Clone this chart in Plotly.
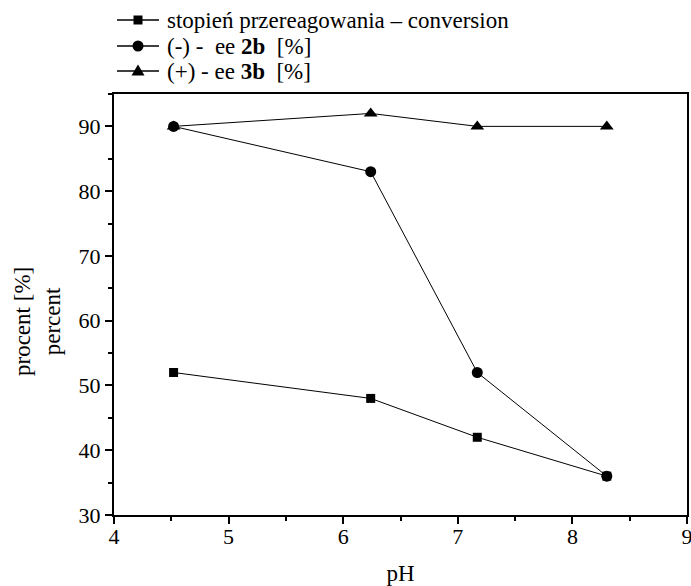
import plotly.graph_objects as go

# pH values of the measurement points
ph = [4.52, 6.24, 7.17, 8.30]

# series values in percent
conversion = [52, 48, 42, 36]
ee_2b = [90, 83, 52, 36]
ee_3b = [90, 92, 90, 90]

series_names = [
    "stopień przereagowania – conversion",
    "(-) -&nbsp; ee <b>2b</b> &nbsp;[%]",
    "(+) - ee <b>3b</b> &nbsp;[%]",
]
series_values = [conversion, ee_2b, ee_3b]
series_symbols = ["square", "circle", "triangle-up"]
symbol_sizes = [9, 11, 12]

FONT = "Liberation Serif"
FS = 22
FS_TEXT = 23

W, H = 691, 586
L, R, T, B = 114, 4, 94, 71
PW, PH = W - L - R, H - T - B


def px_x(px):
    return (px - L) / PW


def px_y(py):
    return (H - B - py) / PH


fig = go.Figure()
for name, vals, sym, size in zip(series_names, series_values, series_symbols, symbol_sizes):
    fig.add_trace(go.Scatter(
        x=ph, y=vals, name=name, mode="lines+markers", showlegend=False,
        line=dict(color="black", width=1),
        marker=dict(symbol=sym, size=size, color="black"),
    ))

axis_common = dict(
    showgrid=False, zeroline=False,
    showline=True, linecolor="black", linewidth=2, mirror=True,
    ticks="outside", ticklen=7, tickwidth=2, tickcolor="black",
    tickfont=dict(family=FONT, size=FS, color="black"),
    automargin=False, ticklabeloverflow="allow",
)

fig.update_xaxes(
    range=[4, 9], dtick=1, tick0=4,
    ticklabelstandoff=-6,
    title=dict(text="pH", font=dict(family=FONT, size=FS_TEXT, color="black"), standoff=20),
    minor=dict(ticks="outside", ticklen=4, tickwidth=2, tickcolor="black", dtick=0.5),
    **axis_common,
)
fig.update_yaxes(
    range=[30, 95], dtick=10, tick0=30,
    minor=dict(ticks="outside", ticklen=4, tickwidth=2, tickcolor="black", dtick=5),
    **axis_common,
)

# two-line y axis caption, rotated
fig.add_annotation(
    text="procent [%]<br>percent", xref="paper", yref="paper",
    x=px_x(37), y=px_y(322), xanchor="center", yanchor="middle",
    textangle=-90, showarrow=False, align="center",
    font=dict(family=FONT, size=FS_TEXT, color="black"),
)

# legend block above the plot: line sample, marker, label
row_y = [20, 46, 71]
for name, sym, py in zip(series_names, series_symbols, row_y):
    yc = px_y(py)
    fig.add_shape(type="line", xref="paper", yref="paper",
                  x0=px_x(117), x1=px_x(159), y0=yc, y1=yc,
                  line=dict(color="black", width=1.5))
    common = dict(xref="paper", yref="paper", xsizemode="pixel", ysizemode="pixel",
                  xanchor=px_x(138), yanchor=yc,
                  fillcolor="black", line=dict(color="black", width=0))
    if sym == "square":
        fig.add_shape(type="rect", x0=-4.5, x1=4.5, y0=-4.5, y1=4.5, **common)
    elif sym == "circle":
        fig.add_shape(type="circle", x0=-5.5, x1=5.5, y0=-5.5, y1=5.5, **common)
    else:
        fig.add_shape(type="path", path="M-6.5,-4.5 L6.5,-4.5 L0,6.5 Z", **common)
    fig.add_annotation(
        text=name, xref="paper", yref="paper", x=px_x(165), y=yc,
        xanchor="left", yanchor="middle", showarrow=False,
        font=dict(family=FONT, size=FS_TEXT, color="black"),
    )

fig.update_layout(
    width=W, height=H,
    margin=dict(l=L, r=R, t=T, b=B, autoexpand=False),
    paper_bgcolor="white", plot_bgcolor="white",
    font=dict(family=FONT, color="black"),
    showlegend=False,
)

fig.write_html("out.html")
